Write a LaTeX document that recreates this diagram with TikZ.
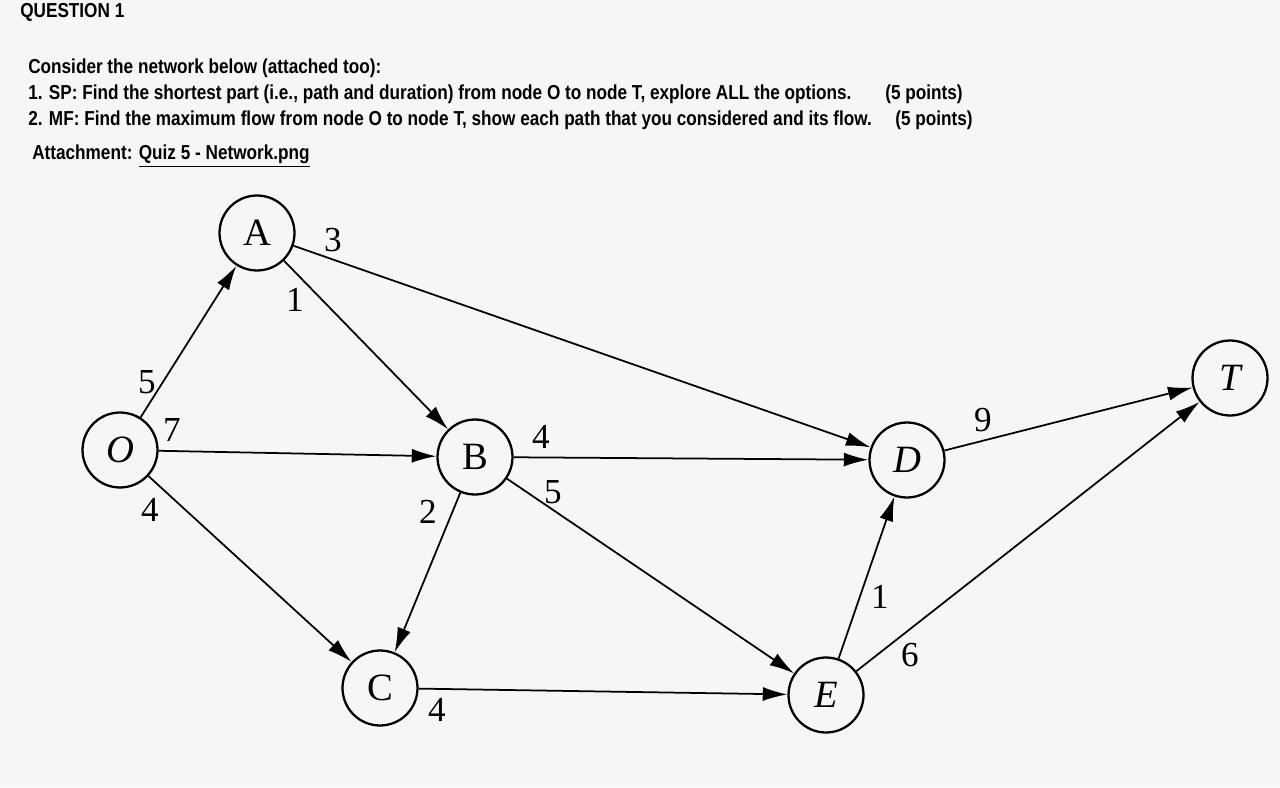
\documentclass[tikz,border=0pt]{standalone}
\usepackage{fontspec}
\setmainfont{Liberation Serif}
\newfontfamily\hdr{Liberation Sans}
\usetikzlibrary{arrows.meta}
\begin{document}
\begin{tikzpicture}[x=0.02cm,y=-0.02cm,
  nd/.style={circle,draw,line width=1.3pt,minimum size=1.5cm,inner sep=0pt,font=\fontsize{22}{22}\selectfont},
  ed/.style={line width=1pt,-{Latex[length=14pt,width=8pt]}},
  lb/.style={font=\fontsize{20}{20}\selectfont},
  ht/.style={anchor=base west,font=\hdr\fontsize{11.5}{12}\selectfont\bfseries,inner sep=0pt,xscale=0.85}]
\fill[gray!7] (0,0) rectangle (1280,787);
\useasboundingbox (0,0) rectangle (1280,787);
\node[ht] (q) at (20,18) {QUESTION 1};
\node[ht] (l0) at (28,74) {Consider the network below (attached too):};
\node[ht] (l1) at (28,100) {1. SP: Find the shortest part (i.e., path and duration) from node O to node T, explore ALL the options.};
\node[ht] (p1) at (885,100) {(5 points)};
\node[ht] (l2) at (28,126) {2. MF: Find the maximum flow from node O to node T, show each path that you considered and its flow.};
\node[ht] (p2) at (895,126) {(5 points)};
\node[ht] (l3) at (32,160) {Attachment: \underline{Quiz 5 - Network.png}};
\node[nd] (O) at (120,450) {\itshape O};
\node[nd] (A) at (257,233) {A};
\node[nd] (B) at (475,457) {B};
\node[nd] (C) at (380,688) {C};
\node[nd] (D) at (907,460) {\itshape D};
\node[nd] (E) at (826,695) {\itshape E};
\node[nd] (T) at (1230,378) {\itshape T};
\draw[ed] (O) -- (A);
\draw[ed] (O) -- (B);
\draw[ed] (O) -- (C);
\draw[ed] (A) -- (D);
\draw[ed] (A) -- (B);
\draw[ed] (B) -- (D);
\draw[ed] (B) -- (E);
\draw[ed] (B) -- (C);
\draw[ed] (C) -- (E);
\draw[ed] (E) -- (D);
\draw[ed] (E) -- (T);
\draw[ed] (D) -- (T);
\node[lb] (w1) at (147,382) {5};
\node[lb] (w2) at (172,430) {7};
\node[lb] (w3) at (150,510) {4};
\node[lb] (w4) at (333,240) {3};
\node[lb] (w5) at (295,300) {1};
\node[lb] (w6) at (541,437) {4};
\node[lb] (w7) at (553,492) {5};
\node[lb] (w8) at (428,512) {2};
\node[lb] (w9) at (437,710) {4};
\node[lb] (w10) at (880,597) {1};
\node[lb] (w11) at (910,655) {6};
\node[lb] (w12) at (983,420) {9};
\end{tikzpicture}
\end{document}
